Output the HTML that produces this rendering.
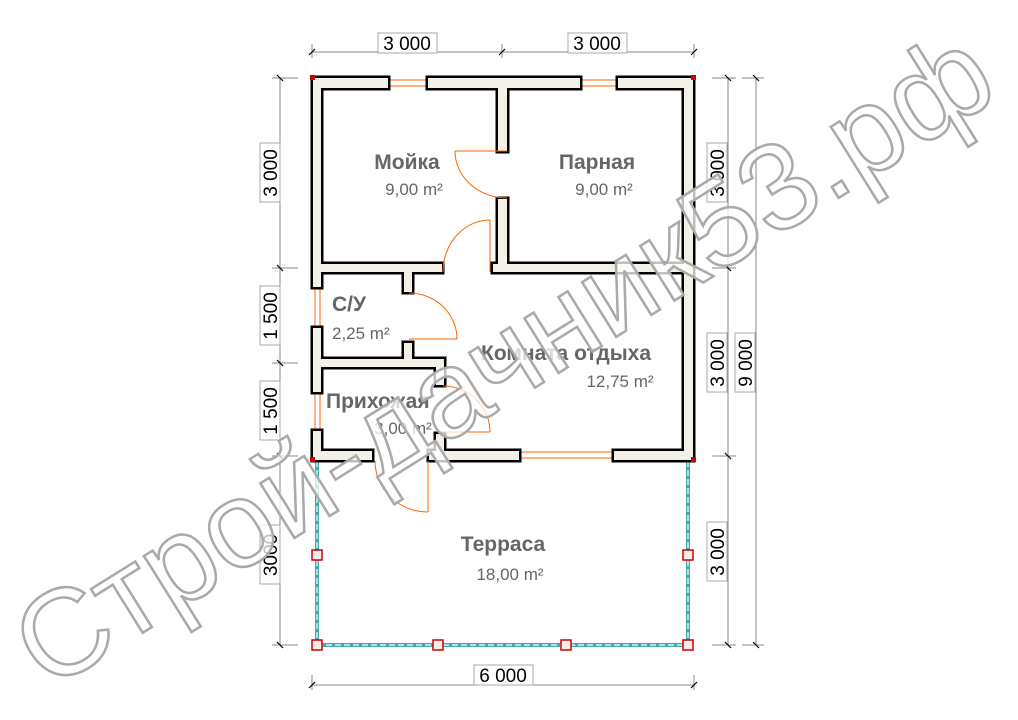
<!DOCTYPE html>
<html><head><meta charset="utf-8"><style>
html,body{margin:0;padding:0;background:#fff;}
svg{display:block;}
text{font-family:"Liberation Sans",sans-serif;}
</style></head><body>
<svg width="1018" height="720" viewBox="0 0 1018 720" xmlns="http://www.w3.org/2000/svg">
<g stroke="#888" stroke-width="1" fill="none">
 <line x1="312" y1="52" x2="694" y2="52"/>
 <line x1="312" y1="685" x2="694" y2="685"/>
 <line x1="312" y1="675" x2="312" y2="690"/>
 <line x1="694" y1="675" x2="694" y2="690"/>
 <line x1="312" y1="44" x2="312" y2="58"/>
 <line x1="502" y1="44" x2="502" y2="58"/>
 <line x1="694" y1="44" x2="694" y2="58"/>
 <line x1="280" y1="78" x2="280" y2="645"/>
 <line x1="272" y1="78" x2="298" y2="78"/>
 <line x1="272" y1="268" x2="298" y2="268"/>
 <line x1="272" y1="363" x2="298" y2="363"/>
 <line x1="272" y1="456" x2="298" y2="456"/>
 <line x1="272" y1="645" x2="298" y2="645"/>
 <line x1="728" y1="78" x2="728" y2="645"/>
 <line x1="712" y1="78" x2="736" y2="78"/>
 <line x1="712" y1="268" x2="736" y2="268"/>
 <line x1="712" y1="456" x2="736" y2="456"/>
 <line x1="712" y1="645" x2="736" y2="645"/>
 <line x1="756" y1="78" x2="756" y2="645"/>
 <line x1="742" y1="78" x2="764" y2="78"/>
 <line x1="742" y1="645" x2="764" y2="645"/>
</g>
<g stroke="#000" stroke-width="1.2">
 <line x1="309" y1="55" x2="315" y2="49"/><line x1="499" y1="55" x2="505" y2="49"/><line x1="691" y1="55" x2="697" y2="49"/>
 <line x1="309" y1="688" x2="315" y2="682"/><line x1="691" y1="688" x2="697" y2="682"/>
 <line x1="277" y1="75" x2="283" y2="81"/><line x1="277" y1="265" x2="283" y2="271"/><line x1="277" y1="360" x2="283" y2="366"/><line x1="277" y1="453" x2="283" y2="459"/><line x1="277" y1="642" x2="283" y2="648"/>
 <line x1="725" y1="75" x2="731" y2="81"/><line x1="725" y1="265" x2="731" y2="271"/><line x1="725" y1="453" x2="731" y2="459"/><line x1="725" y1="642" x2="731" y2="648"/>
 <line x1="753" y1="75" x2="759" y2="81"/><line x1="753" y1="642" x2="759" y2="648"/>
</g>
<g font-size="19" fill="#000" text-anchor="middle">
 <rect x="378" y="33" width="59" height="20" fill="#fff" stroke="#aaa"/><text x="407" y="50">3 000</text>
 <rect x="568" y="33" width="59" height="20" fill="#fff" stroke="#aaa"/><text x="597" y="50">3 000</text>
 <rect x="474" y="665" width="59" height="20" fill="#fff" stroke="#aaa"/><text x="503" y="682">6 000</text>
 <g transform="translate(271,173) rotate(-90)"><rect x="-29" y="-11" width="59" height="20" fill="#fff" stroke="#aaa"/><text x="0" y="6">3 000</text></g>
 <g transform="translate(271,316) rotate(-90)"><rect x="-29" y="-11" width="59" height="20" fill="#fff" stroke="#aaa"/><text x="0" y="6">1 500</text></g>
 <g transform="translate(271,411) rotate(-90)"><rect x="-29" y="-11" width="59" height="20" fill="#fff" stroke="#aaa"/><text x="0" y="6">1 500</text></g>
 <g transform="translate(271,555) rotate(-90)"><rect x="-29" y="-11" width="59" height="20" fill="#fff" stroke="#aaa"/><text x="0" y="6">3000</text></g>
 <g transform="translate(718,173) rotate(-90)"><rect x="-29" y="-11" width="59" height="20" fill="#fff" stroke="#aaa"/><text x="0" y="6">3 000</text></g>
 <g transform="translate(718,363) rotate(-90)"><rect x="-29" y="-11" width="59" height="20" fill="#fff" stroke="#aaa"/><text x="0" y="6">3 000</text></g>
 <g transform="translate(718,552) rotate(-90)"><rect x="-29" y="-11" width="59" height="20" fill="#fff" stroke="#aaa"/><text x="0" y="6">3 000</text></g>
 <g transform="translate(746,363) rotate(-90)"><rect x="-29" y="-11" width="59" height="20" fill="#fff" stroke="#aaa"/><text x="0" y="6">9 000</text></g>
</g>
<g fill="none">
 <line x1="317" y1="461" x2="317" y2="645" stroke="#4aa" stroke-width="4"/>
 <line x1="688" y1="461" x2="688" y2="645" stroke="#4aa" stroke-width="4"/>
 <line x1="317" y1="645" x2="688" y2="645" stroke="#4aa" stroke-width="4"/>
 <line x1="317" y1="461" x2="317" y2="645" stroke="#fff" stroke-width="1.2" stroke-dasharray="6 3"/>
 <line x1="688" y1="461" x2="688" y2="645" stroke="#fff" stroke-width="1.2" stroke-dasharray="6 3"/>
 <line x1="317" y1="645" x2="688" y2="645" stroke="#fff" stroke-width="1.2" stroke-dasharray="6 3"/>
</g>
<g fill="#f3eeee" stroke="#c00" stroke-width="1.5">
 <rect x="312" y="550" width="10" height="10"/><rect x="683" y="550" width="10" height="10"/>
 <rect x="312" y="640" width="10" height="10"/><rect x="433" y="640" width="10" height="10"/>
 <rect x="561" y="640" width="10" height="10"/><rect x="683" y="640" width="10" height="10"/>
</g>
<g fill="#fff" stroke="#f60" stroke-width="1">
 <rect x="389" y="80" width="38" height="6"/><rect x="581" y="80" width="36" height="6"/>
 <rect x="520" y="452" width="93" height="6"/>
 <rect x="315" y="288" width="5" height="39"/><rect x="315" y="393" width="5" height="37"/>
</g>
<g fill="#000">
 <rect x="310.5" y="75.5" width="80" height="15"/><rect x="425.5" y="75.5" width="157" height="15"/><rect x="615.5" y="75.5" width="80" height="15"/>
 <rect x="310.5" y="75.5" width="13" height="214"/><rect x="310.5" y="325.5" width="13" height="69"/><rect x="310.5" y="428.5" width="13" height="34"/>
 <rect x="681.5" y="75.5" width="14" height="387"/>
 <rect x="310.5" y="448.5" width="64" height="14"/><rect x="426.5" y="448.5" width="95" height="14"/><rect x="611.5" y="448.5" width="84" height="14"/>
 <rect x="433.5" y="431.5" width="13" height="31"/>
 <rect x="495.5" y="75.5" width="14" height="78"/><rect x="495.5" y="196.5" width="14" height="78"/>
 <rect x="310.5" y="261.5" width="134" height="13"/><rect x="490.5" y="261.5" width="205" height="13"/>
 <rect x="401.5" y="261.5" width="13" height="33"/>
 <rect x="310.5" y="356.5" width="136" height="13"/><rect x="401.5" y="340.5" width="13" height="29"/><rect x="433.5" y="356.5" width="13" height="31"/>
</g>
<g fill="#f3f0e8">
 <rect x="313" y="78" width="75" height="10"/><rect x="428" y="78" width="152" height="10"/><rect x="618" y="78" width="75" height="10"/>
 <rect x="313" y="78" width="8" height="209"/><rect x="313" y="328" width="8" height="64"/><rect x="313" y="431" width="8" height="29"/>
 <rect x="684" y="78" width="9" height="382"/>
 <rect x="313" y="451" width="59" height="9"/><rect x="429" y="451" width="90" height="9"/><rect x="614" y="451" width="79" height="9"/>
 <rect x="436" y="434" width="8" height="26"/>
 <rect x="498" y="78" width="9" height="73"/><rect x="498" y="199" width="9" height="73"/>
 <rect x="313" y="264" width="129" height="8"/><rect x="493" y="264" width="200" height="8"/>
 <rect x="404" y="264" width="8" height="28"/>
 <rect x="313" y="359" width="131" height="8"/><rect x="404" y="343" width="8" height="24"/><rect x="436" y="359" width="8" height="26"/>
</g>
<g fill="#c00">
 <rect x="310" y="75" width="5" height="5"/><rect x="691" y="75" width="5" height="5"/>
 <rect x="310" y="457" width="5" height="5"/><rect x="691" y="457" width="5" height="5"/>
</g>
<g fill="none" stroke="#f60" stroke-width="1">
 <path d="M455,151 L507,151"/><path d="M455,151 A52,47 0 0 0 507,198"/>
 <path d="M490,220 L490,272"/><path d="M490,220 A47,52 0 0 0 443,272"/>
 <path d="M409,339 L457,339"/><path d="M409,293 A48,46 0 0 1 457,339"/>
 <path d="M442,432 L490,432"/><path d="M443,386 A47,46 0 0 1 490,432"/>
 <path d="M428,461 L428,512"/><path d="M375,461 A53,51 0 0 0 428,512"/>
</g>
<g fill="#666">
 <g font-size="21" font-weight="bold">
  <text x="407" y="169" text-anchor="middle">Мойка</text>
  <text x="597" y="169" text-anchor="middle">Парная</text>
  <text x="332" y="311">С/У</text>
  <text x="566" y="360" text-anchor="middle">Комната отдыха</text>
  <text x="326" y="408">Прихожая</text>
  <text x="503" y="551" text-anchor="middle">Терраса</text>
 </g>
 <g font-size="17">
  <text x="414" y="195" text-anchor="middle">9,00 m²</text>
  <text x="604" y="195" text-anchor="middle">9,00 m²</text>
  <text x="332" y="339">2,25 m²</text>
  <text x="620" y="387" text-anchor="middle">12,75 m²</text>
  <text x="403" y="434" text-anchor="middle">3,00 m²</text>
  <text x="510" y="580" text-anchor="middle">18,00 m²</text>
 </g>
</g>
<text x="48" y="692" transform="rotate(-32 48 692)" font-size="122" textLength="1125" lengthAdjust="spacingAndGlyphs" fill="#fff" fill-opacity="0.75" stroke="#aaa" stroke-width="2.5">Строй-дачник53.рф</text>
</svg>
</body></html>
